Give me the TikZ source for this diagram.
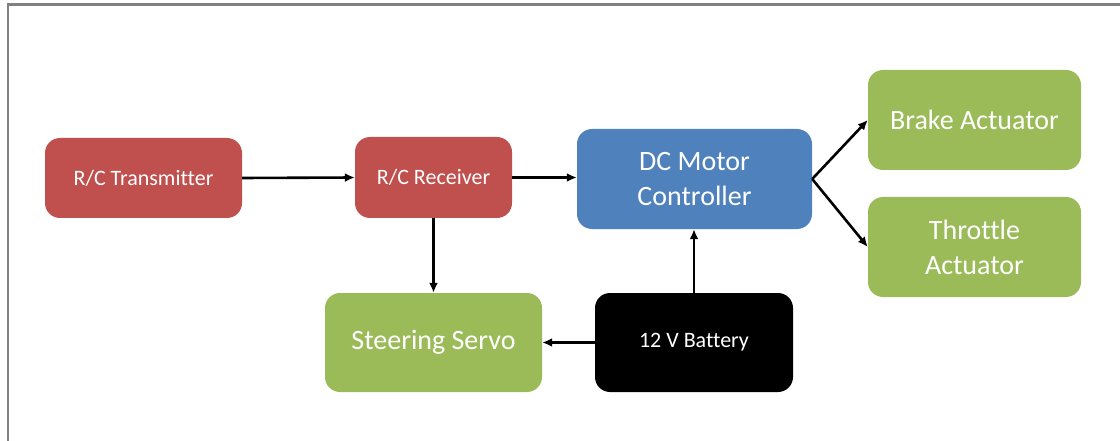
\documentclass[tikz,border=0pt]{standalone}
\usepackage{fontspec}
\setmainfont[Ligatures=NoCommon]{Carlito}
\usetikzlibrary{arrows.meta}
\definecolor{bxred}{HTML}{C0504D}
\definecolor{bxblue}{HTML}{4F81BD}
\definecolor{bxgreen}{HTML}{9BBB59}
\definecolor{frame}{HTML}{808080}
\tikzset{
  blk/.style={rounded corners=15pt, inner sep=0pt, text=white, align=center},
  smalltxt/.style={font=\fontsize{22}{26}\selectfont},
  bigtxt/.style={font=\fontsize{28}{35}\selectfont},
  conn/.style={draw=black, line width=2.6pt, -{Latex[length=10pt,width=9pt]}}
}
\begin{document}
\begin{tikzpicture}[x=1pt,y=-1pt]
\useasboundingbox (0,0) rectangle (1120,441);
\draw[frame, line width=2.2pt] (8,441) -- (8,4.5) -- (1120,4.5);
\node[blk, smalltxt, fill=bxred, minimum width=197pt, minimum height=80pt] (tx) at (143.5,178) {R/C Transmitter};
\node[blk, smalltxt, fill=bxred, minimum width=157pt, minimum height=81pt] (rx) at (433.5,177.5) {R/C Receiver};
\node[blk, bigtxt, fill=bxblue, minimum width=235pt, minimum height=100pt] (dc) at (694.5,179) {DC Motor\\Controller};
\node[blk, bigtxt, fill=bxgreen, minimum width=213pt, minimum height=100pt] (brake) at (974.5,120) {Brake Actuator};
\node[blk, bigtxt, fill=bxgreen, minimum width=213pt, minimum height=100pt] (thr) at (974.5,247) {Throttle\\Actuator};
\node[blk, bigtxt, fill=bxgreen, minimum width=217pt, minimum height=99pt] (ss) at (433.5,342.5) {Steering Servo};
\node[blk, smalltxt, fill=black, minimum width=198pt, minimum height=99pt] (bat) at (694,342.5) {12 V Battery};
\draw[conn] (tx.east) -- (rx.west);
\draw[conn] (rx.east) -- (rx.east -| dc.west);
\draw[conn] (rx.south) -- (rx.south |- ss.north);
\draw[conn] (bat.north) -- (bat.north |- dc.south);
\draw[conn] (bat.west) -- (ss.east);
\draw[conn] (dc.east) -- (brake.west);
\draw[conn] (dc.east) -- (thr.west);
\end{tikzpicture}
\end{document}
